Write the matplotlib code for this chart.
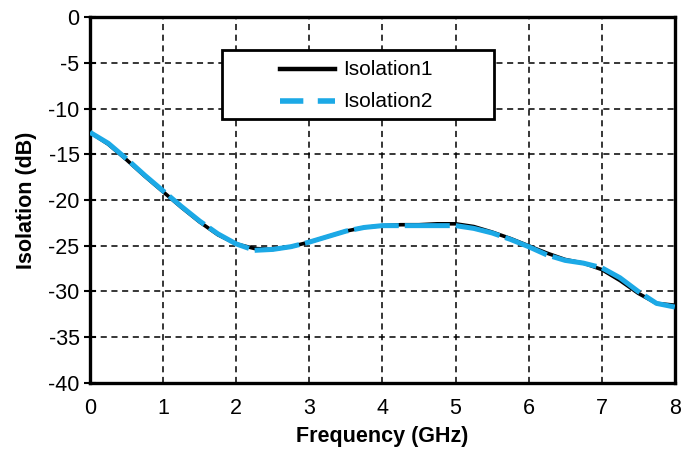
import matplotlib
matplotlib.use("Agg")
import matplotlib.pyplot as plt
from matplotlib.lines import Line2D
from matplotlib.patches import Rectangle

freq = [0, 0.25, 0.5, 0.75, 1.0, 1.25, 1.5, 1.75, 2.0, 2.25, 2.5, 2.75, 3.0, 3.25,
        3.5, 3.75, 4.0, 4.25, 4.5, 4.75, 5.0, 5.25, 5.5, 5.75, 6.0, 6.25, 6.5,
        6.75, 7.0, 7.25, 7.5, 7.75, 8.0]
iso1 = [-12.6, -13.9, -15.6, -17.4, -19.1, -20.8, -22.4, -23.8, -24.8, -25.3, -25.4,
        -25.1, -24.6, -24.0, -23.4, -23.0, -22.8, -22.7, -22.7, -22.6, -22.6, -22.9,
        -23.5, -24.2, -25.0, -25.8, -26.5, -26.9, -27.6, -28.8, -30.2, -31.3, -31.5]
iso2 = [-12.6, -13.8, -15.5, -17.3, -19.0, -20.7, -22.3, -23.7, -24.8, -25.5, -25.4,
        -25.1, -24.6, -24.0, -23.4, -23.0, -22.8, -22.8, -22.8, -22.8, -22.8, -23.1,
        -23.6, -24.3, -25.1, -26.0, -26.6, -26.9, -27.4, -28.5, -30.0, -31.3, -31.7]
xticks = [0, 1, 2, 3, 4, 5, 6, 7, 8]
yticks = [0, -5, -10, -15, -20, -25, -30, -35, -40]
labels = ['Isolation1', 'Isolation2']

plt.rcParams['font.family'] = ['Liberation Sans', 'DejaVu Sans']
fig = plt.figure(figsize=(7, 4.5), dpi=100)
ax = fig.add_axes([0.1286, 0.149, 0.8354, 0.813])

blue = '#1CA9E6'
ax.plot(freq, iso1, color='black', lw=2.6, zorder=3, solid_capstyle='round')
ax.plot(freq, iso2, color=blue, lw=3.6, zorder=4, linestyle=(0, (9, 1.2)))

ax.set_xlim(0, 8)
ax.set_ylim(-40, 0)
ax.set_xticks(xticks)
ax.set_yticks(yticks)
ax.set_xticklabels([str(v) for v in xticks])
ax.set_yticklabels([str(v) for v in yticks])
ax.tick_params(axis='x', direction='in', length=0, labelsize=15.5, pad=11)
ax.tick_params(axis='y', direction='inout', length=9, width=1.5, labelsize=15.5, pad=3)
ax.grid(True, color='black', linestyle=(0, (4, 3)), linewidth=1.1)
for s in ax.spines.values():
    s.set_linewidth(2.4)

ax.set_xlabel('Frequency (GHz)', fontsize=15.5, fontweight='bold', labelpad=5)
ax.set_ylabel('Isolation (dB)', fontsize=15.5, fontweight='bold', labelpad=8)

# legend box drawn in axes coordinates
ax.add_patch(Rectangle((0.2256, 0.7213), 0.465, 0.1885, transform=ax.transAxes,
                       facecolor='white', edgecolor='black', lw=2.0, zorder=10))
ax.add_line(Line2D([0.3248, 0.4188], [0.858, 0.858], transform=ax.transAxes,
                   color='black', lw=3.2, zorder=11))
ax.add_line(Line2D([0.3248, 0.4188], [0.770, 0.770], transform=ax.transAxes,
                   color=blue, lw=4, linestyle=(0, (4.2, 2.6)), zorder=11))
ax.text(0.4325, 0.858, labels[0], transform=ax.transAxes, fontsize=15,
        va='center', ha='left', zorder=12)
ax.text(0.4325, 0.770, labels[1], transform=ax.transAxes, fontsize=15,
        va='center', ha='left', zorder=12)

fig.savefig('out.png', dpi=100)
